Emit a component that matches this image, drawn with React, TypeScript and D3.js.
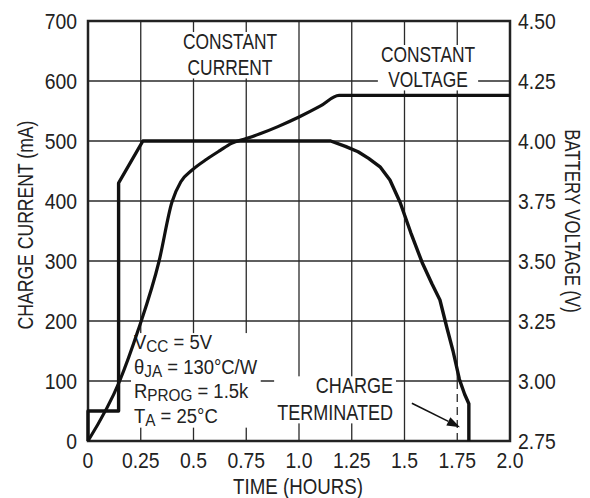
import { useEffect, useRef } from 'react';
import * as d3 from 'd3';

// axis ticks
const timeTicks = [0, 0.25, 0.5, 0.75, 1.0, 1.25, 1.5, 1.75, 2.0];
const timeLabels = ['0', '0.25', '0.5', '0.75', '1.0', '1.25', '1.5', '1.75', '2.0'];
const currentTicks = [0, 100, 200, 300, 400, 500, 600, 700];
const voltTicks = [2.75, 3.0, 3.25, 3.5, 3.75, 4.0, 4.25, 4.5];
const voltLabels = ['2.75', '3.00', '3.25', '3.50', '3.75', '4.00', '4.25', '4.50'];

// charge current (mA) vs time (hours)
const currentTime = [0, 0, 0.145, 0.145, 0.26, 1.15, 1.22, 1.28, 1.33, 1.384, 1.431, 1.479, 1.53, 1.583, 1.63, 1.668, 1.7, 1.73, 1.76, 1.785, 1.805, 1.805];
const currentMA = [0, 50, 50, 430, 500, 500, 491, 482, 471, 457, 435, 398, 347, 298, 262, 235, 190, 150, 103, 78, 62, 0];

// battery voltage (V) vs time (hours)
const voltTime = [0, 0.15, 0.237, 0.337, 0.398, 0.44, 0.495, 0.564, 0.625, 0.68, 0.75, 0.815, 0.9, 1.0, 1.1, 1.19, 2.0];
const voltV = [2.75, 3.0, 3.21, 3.5, 3.746, 3.83, 3.88, 3.925, 3.96, 3.99, 4.01, 4.03, 4.06, 4.1, 4.145, 4.19, 4.19];

// "charge terminated" arrow, [time, mA]
const arrowFrom = [1.535, 63];
const arrowTo = [1.763, 23];
const terminateTime = 1.75;

const FONT = '"Liberation Sans", Arial, sans-serif';

const App = () => {
    const svgRef = useRef(null);

    useEffect(() => {
        const svg = d3.select(svgRef.current);
        svg.selectAll('*').remove();

        const x = d3.scaleLinear().domain([0, 2]).range([88, 510]);
        const yL = d3.scaleLinear().domain([0, 700]).range([441, 21]);
        const yR = d3.scaleLinear().domain([2.75, 4.5]).range([441, 21]);

        const g = svg.append('g').attr('font-family', FONT).attr('fill', '#222');

        // lettering in the original is condensed, so squeeze it horizontally
        const txt = (parent, px, py, str, size, sx, anchor = 'start', rot = 0) =>
            parent.append('text')
                .attr('transform', `translate(${px},${py}) rotate(${rot}) scale(${sx},1)`)
                .attr('text-anchor', anchor).attr('font-size', size).text(str);

        // grid
        const grid = g.append('g').attr('stroke', '#2a2a2a').attr('stroke-width', 1.3);
        timeTicks.slice(1, -1).forEach(t => {
            if (t === terminateTime) {
                grid.append('line').attr('x1', x(t)).attr('x2', x(t)).attr('y1', yL(700)).attr('y2', yL(100));
                grid.append('line').attr('x1', x(t)).attr('x2', x(t)).attr('y1', yL(100)).attr('y2', yL(0))
                    .attr('stroke-dasharray', '8,5');
            } else {
                grid.append('line').attr('x1', x(t)).attr('x2', x(t)).attr('y1', yL(700)).attr('y2', yL(0));
            }
        });
        currentTicks.slice(1, -1).forEach(v => {
            grid.append('line').attr('x1', x(0)).attr('x2', x(2)).attr('y1', yL(v)).attr('y2', yL(v));
        });

        const labels = g.append('g');
        const blocks = [];

        const addBlock = (lines, xPos, anchor, size, sx) => {
            const blk = labels.append('g');
            lines.forEach(l => txt(blk, xPos, l.y, l.t, size, sx, anchor));
            blocks.push(blk);
        };

        addBlock([{ t: 'CONSTANT', y: 49 }, { t: 'CURRENT', y: 75 }], 230, 'middle', 22, 0.79);
        addBlock([{ t: 'CONSTANT', y: 62 }, { t: 'VOLTAGE', y: 87 }], 428, 'middle', 22, 0.79);
        addBlock([{ t: 'CHARGE', y: 393 }, { t: 'TERMINATED', y: 420 }], 393, 'end', 22, 0.82);

        // test conditions
        const cond = labels.append('g');
        const condLines = [
            { a: 'V', s: 'CC', b: ' = 5V', y: 349 },
            { a: 'θ', s: 'JA', b: ' = 130°C/W', y: 373.5 },
            { a: 'R', s: 'PROG', b: ' = 1.5k', y: 398 },
            { a: 'T', s: 'A', b: ' = 25°C', y: 422.5 }
        ];
        condLines.forEach(l => {
            const t = cond.append('text')
                .attr('transform', `translate(134,${l.y}) scale(0.9,1)`).attr('font-size', 20.5);
            t.append('tspan').text(l.a);
            t.append('tspan').attr('font-size', 17).attr('dy', 3).text(l.s);
            t.append('tspan').attr('dy', -3).text(l.b);
        });
        blocks.push(cond);

        // white backgrounds behind text blocks
        blocks.forEach(b => {
            const bb = b.node().getBBox();
            labels.insert('rect', ':first-child')
                .attr('x', bb.x - 3).attr('y', bb.y + 3)
                .attr('width', bb.width + 6).attr('height', bb.height - 4)
                .attr('fill', '#fff');
        });

        // frame
        g.append('rect').attr('x', x(0)).attr('y', yL(700)).attr('width', x(2) - x(0)).attr('height', yL(0) - yL(700))
            .attr('fill', 'none').attr('stroke', '#222').attr('stroke-width', 2.5);

        // curves
        const currentData = currentTime.map((t, i) => [t, currentMA[i]]);
        const voltData = voltTime.map((t, i) => [t, voltV[i]]);

        g.append('path').datum(voltData)
            .attr('d', d3.line().x(d => x(d[0])).y(d => yR(d[1])).curve(d3.curveMonotoneX))
            .attr('fill', 'none').attr('stroke', '#111').attr('stroke-width', 3.2).attr('stroke-linejoin', 'round');

        g.append('path').datum(currentData)
            .attr('d', d3.line().x(d => x(d[0])).y(d => yL(d[1])))
            .attr('fill', 'none').attr('stroke', '#111').attr('stroke-width', 3.4).attr('stroke-linejoin', 'round');

        // arrow
        const ax1 = x(arrowFrom[0]), ay1 = yL(arrowFrom[1]);
        const ax2 = x(arrowTo[0]), ay2 = yL(arrowTo[1]);
        const ang = Math.atan2(ay2 - ay1, ax2 - ax1);
        const hl = 13, hw = 4.5;
        const bx = ax2 - hl * Math.cos(ang), by = ay2 - hl * Math.sin(ang);
        g.append('line').attr('x1', ax1).attr('y1', ay1).attr('x2', bx).attr('y2', by)
            .attr('stroke', '#111').attr('stroke-width', 1.6);
        g.append('path')
            .attr('d', `M${ax2},${ay2}L${bx + hw * Math.sin(ang)},${by - hw * Math.cos(ang)}L${bx - hw * Math.sin(ang)},${by + hw * Math.cos(ang)}Z`)
            .attr('fill', '#111');

        // tick labels
        const ticks = g.append('g');
        currentTicks.forEach(d => txt(ticks, 77, yL(d) + 7.5, String(d), 21.5, 0.9, 'end'));
        voltTicks.forEach((d, i) => txt(ticks, 518, yR(d) + 7.5, voltLabels[i], 21.5, 0.9, 'start'));
        timeTicks.forEach((d, i) => txt(ticks, x(d), 468, timeLabels[i], 21.5, 0.9, 'middle'));

        // axis titles
        txt(g, 33, 225, 'CHARGE CURRENT (mA)', 22, 0.8, 'middle', -90);
        txt(g, 565, 221, 'BATTERY VOLTAGE (V)', 21.5, 0.78, 'middle', 90);
        txt(g, 298, 494, 'TIME (HOURS)', 22, 0.85, 'middle');
    }, []);

    return (
        <svg ref={svgRef} width={590} height={498}
            style={{ position: 'absolute', left: 0, top: 0, background: '#fff' }} />
    );
};

export default App;
